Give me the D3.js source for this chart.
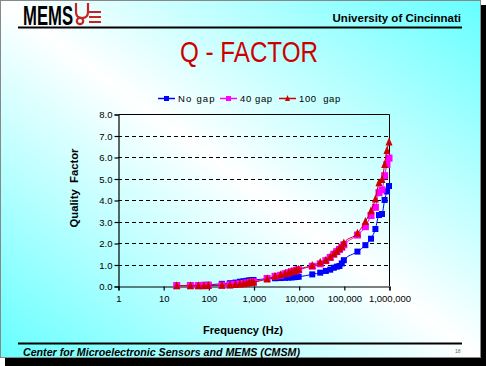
<!DOCTYPE html>
<html><head><meta charset="utf-8">
<script src="https://cdn.jsdelivr.net/npm/d3@7"></script>
<style>body{margin:0;background:#fff}svg{display:block}</style>
</head><body><svg id="c" width="486" height="366"></svg>
<script>
const freqs = [20,40,60,80,100,200,300,400,500,600,700,800,900,1000,2000,3000,4000,5000,6000,7000,8000,9000,10000,20000,30000,40000,50000,60000,70000,80000,90000,100000,200000,300000,400000,500000,600000,700000,800000,900000,1000000];
const noGap = [0.02,0.03,0.04,0.05,0.06,0.1,0.13,0.16,0.2,0.22,0.24,0.26,0.27,0.28,0.34,0.36,0.37,0.38,0.39,0.4,0.41,0.42,0.43,0.54,0.62,0.7,0.76,0.85,0.9,0.93,1.05,1.2,1.6,1.9,2.2,2.65,3.3,3.35,4.0,4.4,4.65];
const gap40 = [0.02,0.02,0.02,0.03,0.03,0.04,0.06,0.08,0.1,0.12,0.14,0.16,0.18,0.2,0.35,0.45,0.5,0.57,0.62,0.67,0.7,0.73,0.76,0.92,1.03,1.18,1.33,1.48,1.6,1.7,1.8,1.92,2.37,2.76,3.28,3.66,4.34,4.47,5.13,5.65,5.95];
const gap100 = [0.01,0.01,0.01,0.01,0.02,0.03,0.05,0.07,0.09,0.11,0.13,0.15,0.17,0.18,0.33,0.45,0.52,0.58,0.62,0.66,0.7,0.74,0.78,0.95,1.1,1.2,1.35,1.5,1.62,1.75,1.85,2.0,2.45,3.0,3.5,4.05,4.8,4.95,5.65,6.3,6.7];
const xTicks = [1,10,100,1000,10000,100000,1000000];
const yTicks = [0,1,2,3,4,5,6,7,8];
const seriesNames = ["No gap","40 gap","100 gap"];

const svg = d3.select("#c");
const FONT = "'Liberation Sans', Arial, sans-serif";

// slide shadow + background
svg.append("rect").attr("x",5).attr("y",5).attr("width",481).attr("height",361).attr("fill","#000");
const defs = svg.append("defs");
const g1 = defs.append("linearGradient").attr("id","bg").attr("x1",1).attr("y1",0).attr("x2",0).attr("y2",1);
g1.append("stop").attr("offset",0).attr("stop-color","#66ffff");
g1.append("stop").attr("offset",0.5).attr("stop-color","#ffffff");
g1.append("stop").attr("offset",1).attr("stop-color","#66ffff");
svg.append("rect").attr("x",0.5).attr("y",0.5).attr("width",480).attr("height",357).attr("fill","url(#bg)").attr("stroke","#888");

// header
svg.append("text").attr("x",23).attr("y",25).attr("font-family","'Liberation Sans Narrow', "+FONT)
  .attr("font-weight","bold").attr("font-size",27).attr("textLength",50).attr("lengthAdjust","spacingAndGlyphs").attr("fill","#000").text("MEMS");
// UC emblem (simplified)
const em = svg.append("g").attr("fill","none").attr("stroke","#cc2222").attr("stroke-width",2.2);
em.append("path").attr("d","M76,3 V12 Q76,18 82,18 Q88,18 88,12 V3");
em.append("path").attr("d","M89,12 H101 M89,17 H101 M89,22 H101");
em.append("circle").attr("cx",80).attr("cy",21).attr("r",3.2);
svg.append("text").attr("x",461).attr("y",22).attr("text-anchor","end").attr("font-family",FONT)
  .attr("font-weight","bold").attr("font-size",11.5).attr("fill","#000").text("University of Cincinnati");
svg.append("line").attr("x1",18).attr("x2",462).attr("y1",27.5).attr("y2",27.5).attr("stroke","#000").attr("stroke-width",2);
svg.append("text").attr("x",249).attr("y",62).attr("text-anchor","middle").attr("font-family",FONT)
  .attr("font-size",29).attr("textLength",138).attr("lengthAdjust","spacingAndGlyphs").attr("fill","#cc0000").text("Q - FACTOR");

// footer
svg.append("line").attr("x1",18).attr("x2",462).attr("y1",343.5).attr("y2",343.5).attr("stroke","#000").attr("stroke-width",2);
svg.append("text").attr("x",23).attr("y",356).attr("font-family",FONT).attr("font-weight","bold").attr("font-style","italic")
  .attr("font-size",10).attr("textLength",277).attr("lengthAdjust","spacingAndGlyphs").attr("fill","#000").text("Center for Microelectronic Sensors and MEMS (CMSM)");
svg.append("text").attr("x",455).attr("y",353).attr("font-family",FONT).attr("font-size",5).attr("fill","#666").text("18");

// scales
const x = d3.scaleLog().domain([1,1e6]).range([118,389]);
const y = d3.scaleLinear().domain([0,8]).range([286,114]);

// gridlines
svg.append("g").selectAll("line").data(yTicks.filter(v=>v>0&&v<8)).join("line")
  .attr("x1",118).attr("x2",389).attr("y1",d=>Math.round(y(d))+0.5).attr("y2",d=>Math.round(y(d))+0.5)
  .attr("stroke","#000").attr("stroke-dasharray","4,3");
// plot border
svg.append("path").attr("d",`M118.5,${y(8)+0.5} H${389.5} V${y(0)}`).attr("fill","none").attr("stroke","#000");

// axes
const yAxis = d3.axisLeft(y).tickValues(yTicks).tickFormat(d3.format(".1f")).tickSize(4).tickPadding(2);
const yg = svg.append("g").attr("transform","translate(118.5,0.5)").call(yAxis);
const xAxis = d3.axisBottom(x).tickValues(xTicks).tickFormat(d3.format(",")).tickSize(4).tickPadding(5);
const xg = svg.append("g").attr("transform",`translate(0.5,${Math.round(y(0))+0.5})`).call(xAxis);
[yg,xg].forEach(g=>{
  g.selectAll("path,line").attr("stroke","#000").attr("stroke-width",1.2);
  g.selectAll("text").attr("font-family",FONT).attr("font-size",9.5).attr("fill","#000");
});
svg.append("text").attr("transform","translate(78,188) rotate(-90)").attr("text-anchor","middle")
  .attr("font-family",FONT).attr("font-weight","bold").attr("font-size",10.5).attr("textLength",79).attr("lengthAdjust","spacingAndGlyphs")
  .attr("fill","#000").attr("xml:space","preserve").text("Quality  Factor");
svg.append("text").attr("x",243).attr("y",334).attr("text-anchor","middle")
  .attr("font-family",FONT).attr("font-weight","bold").attr("font-size",10.5).attr("textLength",80).attr("lengthAdjust","spacingAndGlyphs")
  .attr("fill","#000").text("Frequency (Hz)");

// series
const series = [
  {name:seriesNames[0], vals:noGap, color:"#0000ff", mark:"square", size:6},
  {name:seriesNames[1], vals:gap40, color:"#ff00ff", mark:"square", size:7},
  {name:seriesNames[2], vals:gap100, color:"#cc0000", mark:"triangle", size:7},
];
const line = d3.line().x(d=>x(d[0])).y(d=>y(d[1])).curve(d3.curveMonotoneX);
function marker(g, s, cx, cy){
  if(s.mark==="square"){
    g.append("rect").attr("x",cx-s.size/2).attr("y",cy-s.size/2).attr("width",s.size).attr("height",s.size).attr("fill",s.color);
  } else {
    const h=s.size;
    g.append("path").attr("d",`M${cx},${cy-h/2-1} L${cx+h/2},${cy+h/2} L${cx-h/2},${cy+h/2} Z`).attr("fill",s.color);
  }
}
series.forEach(s=>{
  const pts = freqs.map((f,i)=>[f,s.vals[i]]);
  svg.append("path").attr("d",line(pts)).attr("fill","none").attr("stroke",s.color).attr("stroke-width",1);
  const mg = svg.append("g");
  pts.forEach(p=>marker(mg,s,x(p[0]),y(p[1])));
});

// legend
const legX = [158,220,279];
series.forEach((s,i)=>{
  const lg = svg.append("g");
  lg.append("line").attr("x1",legX[i]).attr("x2",legX[i]+17).attr("y1",98.5).attr("y2",98.5).attr("stroke",s.color).attr("stroke-width",1.5);
  marker(lg,{...s,size:5},legX[i]+8.5,98.5);
  lg.append("text").attr("x",legX[i]+20).attr("y",102).attr("font-family",FONT).attr("font-size",9.5)
    .attr("letter-spacing",i===0?1.2:0.6).attr("fill","#000").attr("xml:space","preserve").text(i===0?"No gap":(i===1?"40 gap":"100  gap"));
});
</script></body></html>
